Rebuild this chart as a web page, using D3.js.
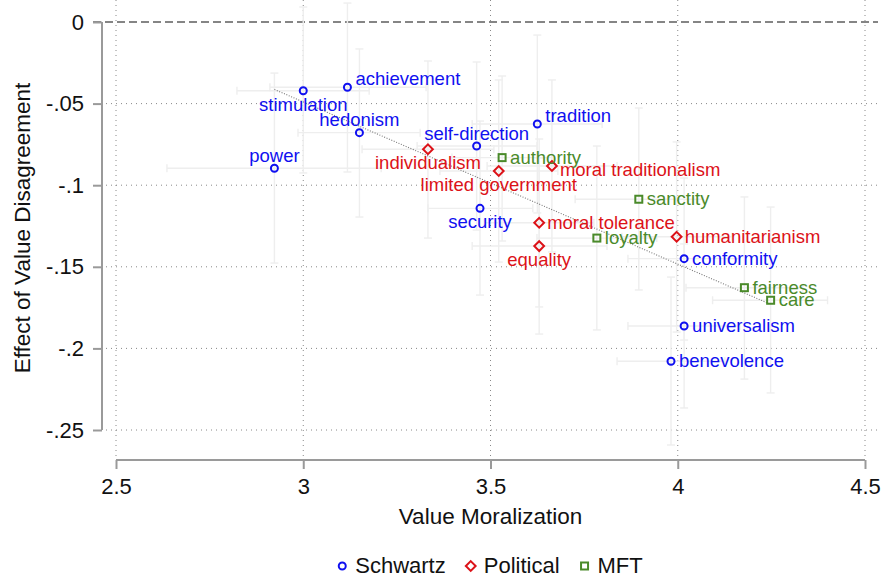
<!DOCTYPE html>
<html>
<head>
<meta charset="utf-8">
<script src="https://cdn.jsdelivr.net/npm/d3@7"></script>
<style>
  body { margin: 0; background: #fff; }
  svg { display: block; font-family: "Liberation Sans", Arial, Helvetica, sans-serif; }
</style>
</head>
<body>
<svg id="chart" width="882" height="577"></svg>
<script>
// Schwartz values
const schwartzNames  = ['power', 'stimulation', 'achievement', 'hedonism', 'self-direction',
                        'security', 'tradition', 'conformity', 'universalism', 'benevolence'];
const schwartzMoral  = [2.923, 3.000, 3.118, 3.150, 3.463, 3.472, 3.625, 4.017, 4.017, 3.982];
const schwartzEffect = [-0.0896, -0.0421, -0.0400, -0.0678, -0.0760, -0.1142, -0.0625, -0.1450, -0.1863, -0.2079];
const schwartzMoralLo  = [2.636, 2.823, 2.911, 2.986, 3.304, 3.333, 3.451, 3.867, 3.867, 3.838];
const schwartzMoralHi  = [3.208, 3.176, 3.328, 3.312, 3.624, 3.613, 3.798, 4.166, 4.166, 4.126];
const schwartzEffectUp = [-0.0313, 0.0092, 0.0116, -0.0165, -0.0245, -0.0607, -0.0080, -0.0956, -0.1360, -0.1563];
const schwartzEffectLo = [-0.1477, -0.0925, -0.0919, -0.1195, -0.1275, -0.1673, -0.1170, -0.1949, -0.2365, -0.2592];
const schwartzLabelPos = [12, 6, 2, 12, 12, 6, 2, 3, 3, 3];

// Political values
const politicalNames  = ['individualism', 'limited government', 'moral traditionalism',
                         'moral tolerance', 'equality', 'humanitarianism'];
const politicalMoral  = [3.333, 3.522, 3.664, 3.630, 3.630, 3.997];
const politicalEffect = [-0.0780, -0.0913, -0.0882, -0.1230, -0.1373, -0.1316];
const politicalMoralLo  = [3.157, 3.365, 3.491, 3.483, 3.451, 3.851];
const politicalMoralHi  = [3.509, 3.680, 3.838, 3.776, 3.811, 4.145];
const politicalEffectUp = [-0.0239, -0.0355, -0.0355, -0.0717, -0.0833, -0.0735];
const politicalEffectLo = [-0.1324, -0.1471, -0.1409, -0.1746, -0.1912, -0.1900];
const politicalLabelPos = [6, 6, 4, 3, 6, 3];

// Moral foundations (MFT)
const mftNames  = ['authority', 'sanctity', 'loyalty', 'fairness', 'care'];
const mftMoral  = [3.531, 3.896, 3.784, 4.178, 4.248];
const mftEffect = [-0.0831, -0.1086, -0.1324, -0.1628, -0.1705];
const mftMoralLo  = [3.397, 3.726, 3.624, 4.022, 4.093];
const mftMoralHi  = [3.664, 4.067, 3.944, 4.334, 4.400];
const mftEffectUp = [-0.0331, -0.0527, -0.0760, -0.1072, -0.1134];
const mftEffectLo = [-0.1342, -0.1642, -0.1887, -0.2188, -0.2273];
const mftLabelPos = [3, 3, 3, 3, 3];

const xTicks = [2.5, 3, 3.5, 4, 4.5];
const xTickLabels = ['2.5', '3', '3.5', '4', '4.5'];
const yTicks = [0, -0.05, -0.1, -0.15, -0.2, -0.25];
const yTickLabels = ['0', '-.05', '-.1', '-.15', '-.2', '-.25'];

const groupNames = ['Schwartz', 'Political', 'MFT'];
const groupColors = ['#1010f0', '#dc1218', '#4a8a2a'];
const groupShapes = ['circle', 'diamond', 'square'];

function buildGroup(g, names, moral, effect, mlo, mhi, eup, elo, pos) {
  return names.map((name, i) => ({
    group: g, name, x: moral[i], y: effect[i],
    xlo: mlo[i], xhi: mhi[i], yup: eup[i], ylo: elo[i], pos: pos[i]
  }));
}

const points = [
  ...buildGroup(0, schwartzNames, schwartzMoral, schwartzEffect, schwartzMoralLo, schwartzMoralHi,
                schwartzEffectUp, schwartzEffectLo, schwartzLabelPos),
  ...buildGroup(1, politicalNames, politicalMoral, politicalEffect, politicalMoralLo, politicalMoralHi,
                politicalEffectUp, politicalEffectLo, politicalLabelPos),
  ...buildGroup(2, mftNames, mftMoral, mftEffect, mftMoralLo, mftMoralHi,
                mftEffectUp, mftEffectLo, mftLabelPos)
];

const svg = d3.select('#chart');

const x = d3.scaleLinear().domain([2.5, 4.5]).range([116, 865]);
const y = d3.scaleLinear().domain([0, -0.25]).range([22, 430]);

// plot region edges (pixels)
const region = { left: 106, right: 878, top: 0, bottom: 458 };
const axisColor = '#9a9a9a';

// grid
const grid = svg.append('g');
grid.selectAll('.hgrid')
  .data(yTicks.slice(1))
  .join('line')
    .attr('x1', region.left).attr('x2', region.right)
    .attr('y1', d => y(d)).attr('y2', d => y(d))
    .attr('stroke', '#888').attr('stroke-width', 1)
    .attr('stroke-dasharray', '1,4');
grid.selectAll('.vgrid')
  .data(xTicks)
  .join('line')
    .attr('x1', d => x(d)).attr('x2', d => x(d))
    .attr('y1', region.top).attr('y2', region.bottom)
    .attr('stroke', '#888').attr('stroke-width', 1)
    .attr('stroke-dasharray', '1,4');

// zero reference line
svg.append('line')
  .attr('x1', 93).attr('x2', region.right)
  .attr('y1', y(0)).attr('y2', y(0))
  .attr('stroke', '#5e5e5e').attr('stroke-width', 1.6)
  .attr('stroke-dasharray', '8,4');

// error bars
const eb = svg.append('g')
  .attr('stroke', '#eeeeee').attr('stroke-width', 1.4).attr('fill', 'none');
const cap = 4;
points.forEach(p => {
  eb.append('line').attr('x1', x(p.xlo)).attr('x2', x(p.xhi)).attr('y1', y(p.y)).attr('y2', y(p.y));
  eb.append('line').attr('x1', x(p.xlo)).attr('x2', x(p.xlo)).attr('y1', y(p.y) - cap).attr('y2', y(p.y) + cap);
  eb.append('line').attr('x1', x(p.xhi)).attr('x2', x(p.xhi)).attr('y1', y(p.y) - cap).attr('y2', y(p.y) + cap);
  eb.append('line').attr('x1', x(p.x)).attr('x2', x(p.x)).attr('y1', y(p.yup)).attr('y2', y(p.ylo));
  eb.append('line').attr('x1', x(p.x) - cap).attr('x2', x(p.x) + cap).attr('y1', y(p.yup)).attr('y2', y(p.yup));
  eb.append('line').attr('x1', x(p.x) - cap).attr('x2', x(p.x) + cap).attr('y1', y(p.ylo)).attr('y2', y(p.ylo));
});

// linear fit across all values
const mx = d3.mean(points, p => p.x);
const my = d3.mean(points, p => p.y);
const slope = d3.sum(points, p => (p.x - mx) * (p.y - my)) / d3.sum(points, p => (p.x - mx) ** 2);
const icpt = my - slope * mx;
const [fx0, fx1] = d3.extent(points, p => p.x);
svg.append('line')
  .attr('x1', x(fx0)).attr('y1', y(icpt + slope * fx0))
  .attr('x2', x(fx1)).attr('y2', y(icpt + slope * fx1))
  .attr('stroke', '#777').attr('stroke-width', 1.1)
  .attr('stroke-dasharray', '1,1.6');

// axes
svg.append('g')
  .attr('transform', 'translate(102,0)')
  .call(d3.axisLeft(y).tickValues(yTicks).tickFormat((d, i) => yTickLabels[i]).tickSize(9).tickPadding(9))
  .call(ax => {
    ax.select('.domain').attr('stroke', axisColor).attr('stroke-width', 2).attr('d', `M0,${y(0)}V${y(-0.25)}`);
    ax.selectAll('.tick line').attr('stroke', axisColor).attr('stroke-width', 2);
    ax.selectAll('.tick text').attr('font-size', 22).attr('fill', '#111').attr('font-family', null);
  });

svg.append('g')
  .attr('transform', 'translate(0,460)')
  .call(d3.axisBottom(x).tickValues(xTicks).tickFormat((d, i) => xTickLabels[i]).tickSize(9).tickPadding(9))
  .call(ax => {
    ax.select('.domain').attr('stroke', axisColor).attr('stroke-width', 2).attr('d', `M${x(2.5)},0H${x(4.5)}`);
    ax.selectAll('.tick line').attr('stroke', axisColor).attr('stroke-width', 2);
    ax.selectAll('.tick text').attr('font-size', 22).attr('fill', '#111').attr('font-family', null);
  });

// axis titles
svg.append('text')
  .attr('transform', 'translate(30,228) rotate(-90)')
  .attr('text-anchor', 'middle')
  .attr('font-size', 22.5).attr('fill', '#111')
  .text('Effect of Value Disagreement');
svg.append('text')
  .attr('x', (x(2.5) + x(4.5)) / 2).attr('y', 524)
  .attr('text-anchor', 'middle')
  .attr('font-size', 22.5).attr('fill', '#111')
  .text('Value Moralization');

// markers
function drawMarker(sel, shape, color) {
  if (shape === 'circle') {
    sel.append('circle').attr('r', 3.5);
  } else if (shape === 'diamond') {
    sel.append('path').attr('d', 'M0,-4.9L4.9,0L0,4.9L-4.9,0Z');
  } else {
    sel.append('rect').attr('x', -3.5).attr('y', -3.5).attr('width', 7).attr('height', 7);
  }
  sel.attr('fill', 'none').attr('stroke', color).attr('stroke-width', 2);
}

points.forEach(p => {
  const m = svg.append('g').attr('transform', `translate(${x(p.x)},${y(p.y)})`);
  drawMarker(m, groupShapes[p.group], groupColors[p.group]);
});

// labels (clock positions)
const labelOffsets = {
  3:  { dx: 8, dy: 6, anchor: 'start' },
  2:  { dx: 8, dy: -2, anchor: 'start' },
  4:  { dx: 8, dy: 10, anchor: 'start' },
  12: { dx: 0, dy: -6.5, anchor: 'middle' },
  6:  { dx: 0, dy: 20, anchor: 'middle' }
};
svg.append('g')
  .selectAll('text')
  .data(points)
  .join('text')
    .attr('x', d => x(d.x) + labelOffsets[d.pos].dx)
    .attr('y', d => y(d.y) + labelOffsets[d.pos].dy)
    .attr('text-anchor', d => labelOffsets[d.pos].anchor)
    .attr('font-size', 18.5)
    .attr('fill', d => groupColors[d.group])
    .text(d => d.name);

// legend
const legend = svg.append('g');
let lx = 0;
groupNames.forEach((name, i) => {
  const item = legend.append('g').attr('transform', `translate(${lx},0)`);
  const mk = item.append('g').attr('transform', 'translate(4,566)');
  drawMarker(mk, groupShapes[i], groupColors[i]);
  const t = item.append('text')
    .attr('x', 17).attr('y', 573)
    .attr('font-size', 22).attr('fill', '#111')
    .text(name);
  lx += 17 + t.node().getComputedTextLength() + 21;
});
const legendW = lx - 21;
legend.attr('transform', `translate(${(x(2.5) + x(4.5)) / 2 - legendW / 2},0)`);
</script>
</body>
</html>
